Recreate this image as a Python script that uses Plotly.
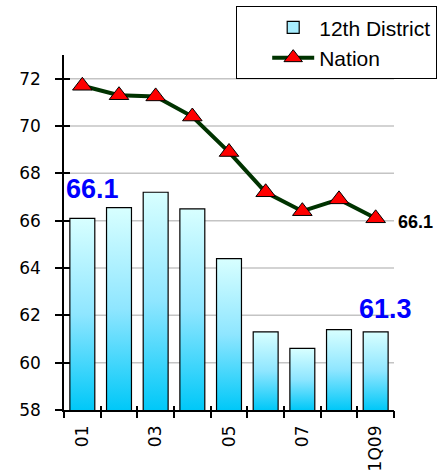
import base64
import plotly.graph_objects as go

# Homeownership-style rate series, annual 2001-2008 plus 1Q 2009
periods = ["01", "02", "03", "04", "05", "06", "07", "08", "1Q09"]
district = [66.1, 66.55, 67.2, 66.5, 64.4, 61.3, 60.6, 61.4, 61.3]
nation = [71.7, 71.3, 71.25, 70.4, 68.9, 67.2, 66.4, 66.9, 66.1]
shown_periods = ["01", "03", "05", "07", "1Q09"]
y_ticks = [58, 60, 62, 64, 66, 68, 70, 72]
y_range = [58, 73]

xs = list(range(len(periods)))
shown_pos = [periods.index(p) for p in shown_periods]
edges = [i - 0.5 for i in range(len(periods) + 1)]
bar_w = 0.68

TICK_FONT = dict(family="DejaVu Sans", size=17, color="black")
TEXT_FONT = "Liberation Sans, Arial, sans-serif"

# vertical cyan gradient used to fill each bar
svg = (
    '<svg xmlns="http://www.w3.org/2000/svg" width="10" height="100" '
    'viewBox="0 0 10 100" preserveAspectRatio="none">'
    '<defs><linearGradient id="g" x1="0" y1="0" x2="0" y2="1">'
    '<stop offset="0" stop-color="#D8FFFF"/>'
    '<stop offset="0.5" stop-color="#8FE6FF"/>'
    '<stop offset="1" stop-color="#00C8F8"/>'
    '</linearGradient></defs>'
    '<rect width="10" height="100" fill="url(#g)"/></svg>'
)
grad_src = "data:image/svg+xml;base64," + base64.b64encode(svg.encode()).decode()

fig = go.Figure()

# legend entry for the bars
fig.add_trace(go.Bar(
    x=[None], y=[None], name="12th District",
    marker=dict(color="#A8EEFF", line=dict(color="black", width=1.2)),
))
# bar outlines (fill comes from the gradient images beneath)
fig.add_trace(go.Bar(
    x=xs, y=district, width=bar_w, showlegend=False, hoverinfo="skip",
    marker=dict(color="rgba(0,0,0,0)", line=dict(color="black", width=1.2)),
))
fig.add_trace(go.Scatter(
    x=xs, y=nation, name="Nation", mode="lines+markers",
    line=dict(color="#003300", width=4),
    marker=dict(symbol="triangle-up", size=17, color="#FF0000",
                line=dict(color="black", width=1)),
))
# carriers for the tick-mark overlay axes
for xa, ya in (("x2", "y"), ("x3", "y"), ("x", "y2")):
    fig.add_trace(go.Scatter(x=[-5], y=[0], xaxis=xa, yaxis=ya, mode="markers",
                             marker=dict(opacity=0), showlegend=False,
                             hoverinfo="skip"))

images = []
for x, v in zip(xs, district):
    images.append(dict(
        source=grad_src, xref="x", yref="y", x=x - bar_w / 2, y=v,
        sizex=bar_w, sizey=v - y_range[0], xanchor="left", yanchor="top",
        sizing="stretch", layer="below",
    ))

shapes = []
for t in y_ticks[1:]:
    shapes.append(dict(type="line", xref="x", yref="y", x0=edges[0], x1=edges[-1],
                       y0=t, y1=t, line=dict(color="#C4C4C4", width=1.5),
                       layer="below"))

annotations = [
    dict(x=xs[0], y=district[0], text=f"{district[0]:.1f}", showarrow=False,
         xanchor="center", yanchor="bottom", xshift=10, yshift=12,
         font=dict(family=TEXT_FONT, size=27, color="#0000FF", weight="bold")),
    dict(x=xs[-1], y=district[-1], text=f"{district[-1]:.1f}", showarrow=False,
         xanchor="center", yanchor="bottom", xshift=10, yshift=6,
         font=dict(family=TEXT_FONT, size=27, color="#0000FF", weight="bold")),
    dict(x=xs[-1], y=nation[-1], text=f"{nation[-1]:.1f}", showarrow=False,
         xanchor="left", yanchor="middle", xshift=20, yshift=-4,
         font=dict(family=TEXT_FONT, size=18, color="black", weight="bold")),
]

tick_common = dict(showgrid=False, zeroline=False, showticklabels=False,
                   tickcolor="black", tickwidth=1.5)

fig.update_layout(
    width=444, height=472,
    margin=dict(l=64, r=50, t=55, b=62, autoexpand=False),
    paper_bgcolor="white", plot_bgcolor="white",
    barmode="overlay",
    images=images, shapes=shapes, annotations=annotations,
    xaxis=dict(range=[edges[0], edges[-1]], tickvals=shown_pos,
               ticktext=shown_periods, tickangle=-90, ticks="",
               ticklabelstandoff=7, tickfont=TICK_FONT, automargin=False,
               showline=True, linecolor="black", linewidth=1.5,
               showgrid=False, zeroline=False),
    xaxis2=dict(overlaying="x", anchor="y", range=[edges[0], edges[-1]],
                tickvals=edges, ticks="outside", ticklen=7, automargin=False,
                **tick_common),
    xaxis3=dict(overlaying="x", anchor="y", range=[edges[0], edges[-1]],
                tickvals=edges, ticks="inside", ticklen=4, automargin=False,
                **tick_common),
    yaxis=dict(range=y_range, tickvals=y_ticks, ticks="outside", ticklen=7,
               tickcolor="black", tickwidth=1.5, ticklabelstandoff=11,
               tickfont=TICK_FONT, showline=True, linecolor="black",
               linewidth=1.5, showgrid=False, zeroline=False, automargin=False),
    yaxis2=dict(overlaying="y", anchor="x", range=y_range, tickvals=y_ticks,
                ticks="inside", ticklen=6, automargin=False, **tick_common),
    legend=dict(xref="container", yref="container",
                x=437 / 444, xanchor="right", y=1 - 6 / 472, yanchor="top",
                bgcolor="white", bordercolor="black", borderwidth=1.2,
                font=dict(family=TEXT_FONT, size=21, color="black"),
                itemwidth=42, indentation=30, traceorder="normal",
                tracegroupgap=0),
    showlegend=True,
)

fig.write_html("out.html")
